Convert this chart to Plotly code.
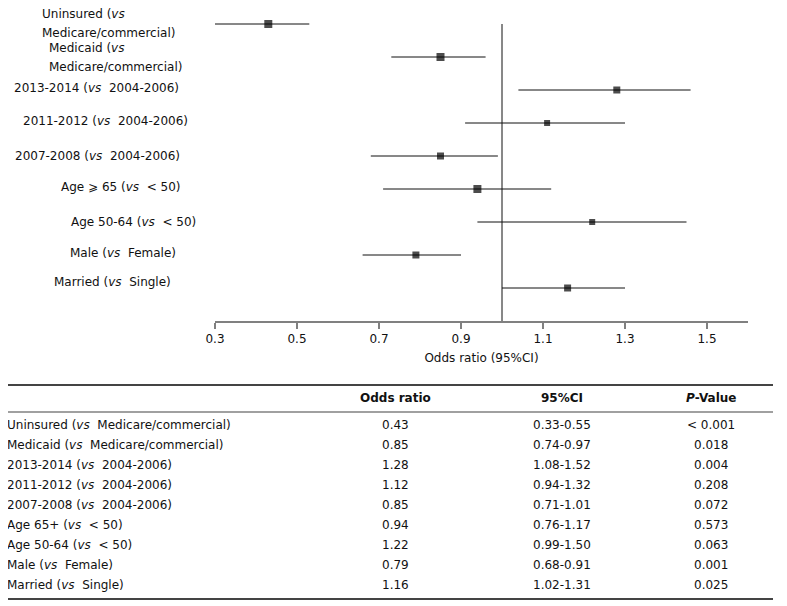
import plotly.graph_objects as go

W, H = 787, 606
FONT = "DejaVu Sans"
OFF = 8  # page offset of the plot div

# ---------------- data ----------------
plot_labels = [
    "Uninsured (<i>vs</i><br>Medicare/commercial)",
    "Medicaid (<i>vs</i><br>Medicare/commercial)",
    "2013-2014 (<i>vs</i>\u00a0 2004-2006)",
    "2011-2012 (<i>vs</i>\u00a0 2004-2006)",
    "2007-2008 (<i>vs</i>\u00a0 2004-2006)",
    "Age \u2a7e 65 (<i>vs</i>\u00a0 < 50)",
    "Age 50-64 (<i>vs</i>\u00a0 < 50)",
    "Male (<i>vs</i>\u00a0 Female)",
    "Married (<i>vs</i>\u00a0 Single)",
]
or_plot = [0.43, 0.85, 1.28, 1.11, 0.85, 0.94, 1.22, 0.79, 1.16]
lo_plot = [0.30, 0.73, 1.04, 0.91, 0.68, 0.71, 0.94, 0.66, 1.00]
hi_plot = [0.53, 0.96, 1.46, 1.30, 0.99, 1.12, 1.45, 0.90, 1.30]
marker_sizes = [8, 8, 7, 6, 7, 8, 6, 7, 7]

x_ticks = [0.3, 0.5, 0.7, 0.9, 1.1, 1.3, 1.5]

table_labels = [
    "Uninsured (<i>vs</i>\u00a0 Medicare/commercial)",
    "Medicaid (<i>vs</i>\u00a0 Medicare/commercial)",
    "2013-2014 (<i>vs</i>\u00a0 2004-2006)",
    "2011-2012 (<i>vs</i>\u00a0 2004-2006)",
    "2007-2008 (<i>vs</i>\u00a0 2004-2006)",
    "Age 65+ (<i>vs</i>\u00a0 < 50)",
    "Age 50-64 (<i>vs</i>\u00a0 < 50)",
    "Male (<i>vs</i>\u00a0 Female)",
    "Married (<i>vs</i>\u00a0 Single)",
]
table_or = [0.43, 0.85, 1.28, 1.12, 0.85, 0.94, 1.22, 0.79, 1.16]
table_ci_lo = [0.33, 0.74, 1.08, 0.94, 0.71, 0.76, 0.99, 0.68, 1.02]
table_ci_hi = [0.55, 0.97, 1.52, 1.32, 1.01, 1.17, 1.50, 0.91, 1.31]
table_p = ["< 0.001", "0.018", "0.004", "0.208", "0.072", "0.573", "0.063", "0.001", "0.025"]
table_headers = ["", "Odds ratio", "95%CI", "<i>P</i>-Value"]

# ---------------- layout helpers (pixels) ----------------
label_x_px = [42, 49, 14, 23, 15, 61, 71, 70, 54]
label_dy_px = [0.5, -0.5, 2, 2, 0, 2, 0, 2, 6]
LINE_PX = 19
TEXT_PAD = 2
AXIS_Y_PX = 321
ROW_PX = 33

n = len(or_plot)
rows = list(range(n, 0, -1))

def px_x(p):
    return (p - OFF) / W

def px_y(p):
    return 1 - (p - OFF) / H

fig = go.Figure()
fig.add_trace(go.Scatter(
    x=or_plot, y=rows, mode="markers",
    marker=dict(symbol="square", color="black", size=marker_sizes, line=dict(width=0)),
    error_x=dict(type="data", symmetric=False,
                 array=[h - o for h, o in zip(hi_plot, or_plot)],
                 arrayminus=[o - l for o, l in zip(or_plot, lo_plot)],
                 color="#111111", thickness=1, width=0),
    showlegend=False, hoverinfo="skip", cliponaxis=False,
))

annotations = []
for lab, xp, dy, r in zip(plot_labels, label_x_px, label_dy_px, rows):
    lines = lab.split("<br>")
    m = len(lines)
    for k, ln in enumerate(lines):
        annotations.append(dict(
            text=ln, xref="paper", yref="y", x=px_x(xp - TEXT_PAD), y=r,
            xanchor="left", yanchor="middle", showarrow=False,
            yshift=dy + ((m - 1) / 2 - k) * LINE_PX,
            font=dict(family=FONT, size=12, color="#111111"),
        ))

# table
col_left_px = 7
col_center_px = [None, 395, 562, 711]
header_y_px = 398
row_y0_px = 425
row_step_px = 20

for j, hd in enumerate(table_headers):
    if not hd:
        continue
    annotations.append(dict(
        text="<b>" + hd + "</b>", xref="paper", yref="paper",
        x=px_x(col_center_px[j]), y=px_y(header_y_px),
        xanchor="center", yanchor="middle", showarrow=False,
        font=dict(family=FONT, size=12, color="#111111"),
    ))

for i in range(n):
    yy = px_y(row_y0_px + i * row_step_px)
    cells = [table_labels[i], f"{table_or[i]:.2f}",
             f"{table_ci_lo[i]:.2f}-{table_ci_hi[i]:.2f}", table_p[i]]
    for j, c in enumerate(cells):
        if j == 0:
            annotations.append(dict(
                text=c, xref="paper", yref="paper", x=px_x(col_left_px - TEXT_PAD), y=yy,
                xanchor="left", yanchor="middle", showarrow=False,
                font=dict(family=FONT, size=12, color="#111111"),
            ))
        else:
            annotations.append(dict(
                text=c, xref="paper", yref="paper", x=px_x(col_center_px[j]), y=yy,
                xanchor="center", yanchor="middle", showarrow=False,
                font=dict(family=FONT, size=12, color="#111111"),
            ))

shapes = [
    dict(type="line", xref="x", yref="y", x0=1.0, x1=1.0, y0=0, y1=n,
         line=dict(color="#111111", width=1)),
    dict(type="line", xref="paper", yref="paper", x0=px_x(3), x1=px_x(773),
         y0=px_y(385), y1=px_y(385), line=dict(color="#444444", width=2)),
    dict(type="line", xref="paper", yref="paper", x0=px_x(3), x1=px_x(773),
         y0=px_y(412), y1=px_y(412), line=dict(color="#a0a0a0", width=2)),
    dict(type="line", xref="paper", yref="paper", x0=px_x(3), x1=px_x(773),
         y0=px_y(599), y1=px_y(599), line=dict(color="#444444", width=2)),
]

fig.update_layout(
    width=W, height=H,
    margin=dict(l=0, r=0, t=0, b=0, pad=0, autoexpand=False),
    paper_bgcolor="white", plot_bgcolor="white",
    font=dict(family=FONT, size=12, color="#111111"),
    xaxis=dict(
        domain=[px_x(215), px_x(748)], range=[0.3, 1.6],
        tickmode="array", tickvals=x_ticks, ticktext=[f"{t:.1f}" for t in x_ticks],
        showline=True, linecolor="#808080", linewidth=1.5,
        ticks="outside", ticklen=6, tickcolor="#808080", tickwidth=1.5,
        showgrid=False, zeroline=False, automargin=False,
        tickfont=dict(family=FONT, size=12, color="#111111"),
        title=dict(text="Odds ratio (95%CI)", standoff=8,
                   font=dict(family=FONT, size=12, color="#111111")),
    ),
    yaxis=dict(
        domain=[px_y(AXIS_Y_PX), 1.0], range=[0, (AXIS_Y_PX - OFF) / ROW_PX],
        visible=False, showgrid=False, zeroline=False, automargin=False,
    ),
    annotations=annotations,
    shapes=shapes,
)

fig.write_html("out.html")
